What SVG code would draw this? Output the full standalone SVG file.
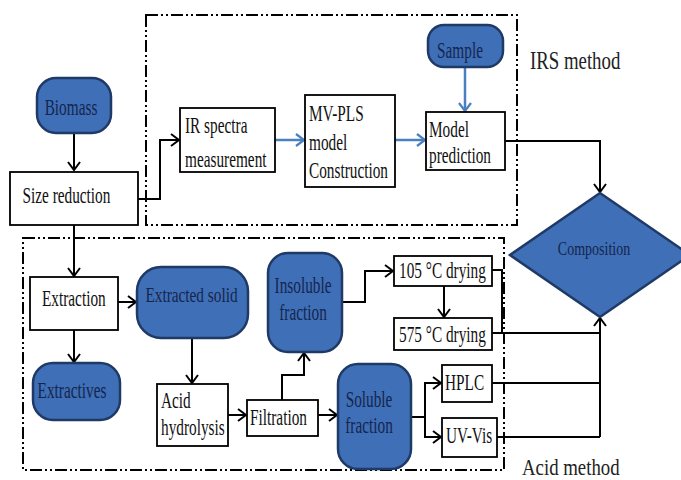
<svg xmlns="http://www.w3.org/2000/svg" width="681" height="480" viewBox="0 0 681 480">
<defs>
<marker id="ah" markerWidth="12" markerHeight="14" refX="10" refY="7" orient="auto" markerUnits="userSpaceOnUse">
<path d="M2,1 L10,7 L2,13" fill="none" stroke="#000" stroke-width="2"/>
</marker>
<marker id="ahb" markerWidth="12" markerHeight="14" refX="10" refY="7" orient="auto" markerUnits="userSpaceOnUse">
<path d="M2,1 L10,7 L2,13" fill="none" stroke="#4a7fc0" stroke-width="2.2"/>
</marker>
</defs>
<style>
.box{fill:#fff;stroke:#000;stroke-width:1.8}
.term{fill:#3f6fb6;stroke:#1f3a66;stroke-width:2.5}
text{font-family:'Liberation Serif','DejaVu Serif','Times New Roman',serif}
.t{font-size:15.3px;fill:#111}
.tb{font-size:15.3px;fill:#14264f;text-anchor:middle}
.big{font-size:18.8px;fill:#222}
.frame{fill:none;stroke:#000;stroke-width:2;stroke-dasharray:12 3 2 3 2 3}
.c{fill:none;stroke:#000;stroke-width:2}
.cb{fill:none;stroke:#4a7fc0;stroke-width:2.5}
</style>
<rect width="681" height="480" fill="#fff"/>

<g id="frames">
<rect class="frame" x="146" y="15" width="371" height="210"/>
<rect class="frame" x="23" y="238" width="481" height="232"/>
<text class="big" transform="translate(530,69) scale(1,1.38)">IRS method</text>
<text class="big" transform="translate(522,475) scale(1,1.25)">Acid method</text>
</g>

<g id="connectors">
<path class="c" d="M74,133 V170" marker-end="url(#ah)"/>
<path class="c" d="M138,199 H160 V140 H179" marker-end="url(#ah)"/>
<path class="cb" d="M275,140 H304" marker-end="url(#ahb)"/>
<path class="cb" d="M395,140 H425" marker-end="url(#ahb)"/>
<path class="cb" d="M465,67 V111" marker-end="url(#ahb)"/>
<path class="c" d="M505,141 H600 V192" marker-end="url(#ah)"/>
<path class="c" d="M74,225 V276" marker-end="url(#ah)"/>
<path class="c" d="M118,302 H136" marker-end="url(#ah)"/>
<path class="c" d="M74,330 V362" marker-end="url(#ah)"/>
<path class="c" d="M192,338 V383" marker-end="url(#ah)"/>
<path class="c" d="M228,415 H246" marker-end="url(#ah)"/>
<path class="c" d="M282,400 V375 H304 V353" marker-end="url(#ah)"/>
<path class="c" d="M318,415 H337" marker-end="url(#ah)"/>
<path class="c" d="M342,302 H365 V271 H393" marker-end="url(#ah)"/>
<path class="c" d="M444,286 V317" marker-end="url(#ah)"/>
<path class="c" d="M492,270 H502 V333"/>
<path class="c" d="M492,333 H600"/>
<path class="c" d="M492,383 H600"/>
<path class="c" d="M497,437 H600"/>
<path class="c" d="M600,437 V318" marker-end="url(#ah)"/>
<path class="c" d="M411,417 H425 V383 H441" marker-end="url(#ah)"/>
<path class="c" d="M425,417 V437 H441" marker-end="url(#ah)"/>
</g>

<g id="biomass">
<rect class="term" x="37" y="78" width="74" height="55" rx="19"/>
<text class="tb" transform="translate(71,115) scale(1,1.45)">Biomass</text>
</g>
<g id="size-reduction">
<rect class="box" x="10" y="172" width="128" height="53"/>
<text class="t" transform="translate(22.5,203) scale(1,1.45)">Size reduction</text>
</g>
<g id="ir-spectra">
<rect class="box" x="180" y="108" width="95" height="64"/>
<text class="t" transform="translate(185,133) scale(1,1.45)">IR spectra</text>
<text class="t" transform="translate(185,167) scale(1,1.45)">measurement</text>
</g>
<g id="mv-pls">
<rect class="box" x="305" y="95" width="90" height="92"/>
<text class="t" transform="translate(309,121) scale(1,1.45)">MV-PLS</text>
<text class="t" transform="translate(309,150) scale(1,1.45)">model</text>
<text class="t" transform="translate(309,178) scale(1,1.45)">Construction</text>
</g>
<g id="sample">
<rect class="term" x="428" y="25" width="75" height="42" rx="16"/>
<text class="tb" transform="translate(460,58) scale(1,1.45)">Sample</text>
</g>
<g id="model-prediction">
<rect class="box" x="426" y="112" width="79" height="58"/>
<text class="t" transform="translate(429,137) scale(1,1.45)">Model</text>
<text class="t" transform="translate(429,163) scale(1,1.45)">prediction</text>
</g>
<g id="composition">
<polygon class="term" points="600,193 690,255 600,317 510,255"/>
<text class="tb" transform="translate(594,255) scale(1,1.4)" style="font-size:14px">Composition</text>
</g>
<g id="extraction">
<rect class="box" x="30" y="277" width="88" height="53"/>
<text class="t" transform="translate(42,306) scale(1,1.45)">Extraction</text>
</g>
<g id="extracted-solid">
<rect class="term" x="137" y="267" width="111" height="71" rx="24"/>
<text class="tb" transform="translate(191.5,302) scale(1,1.4)">Extracted solid</text>
</g>
<g id="extractives">
<rect class="term" x="33" y="363" width="87" height="57" rx="20"/>
<text class="tb" transform="translate(72,398) scale(1,1.45)">Extractives</text>
</g>
<g id="acid-hydrolysis">
<rect class="box" x="157" y="384" width="71" height="62"/>
<text class="t" transform="translate(161,408) scale(1,1.45)">Acid</text>
<text class="t" transform="translate(161,435) scale(1,1.45)">hydrolysis</text>
</g>
<g id="filtration">
<rect class="box" x="247" y="400" width="71" height="36"/>
<text class="t" transform="translate(250,425) scale(1,1.45)">Filtration</text>
</g>
<g id="insoluble-fraction">
<rect class="term" x="268" y="253" width="74" height="99" rx="20"/>
<text class="tb" transform="translate(303,293) scale(1,1.45)">Insoluble</text>
<text class="tb" transform="translate(303,320) scale(1,1.45)">fraction</text>
</g>
<g id="soluble-fraction">
<rect class="term" x="338" y="364" width="73" height="105" rx="20"/>
<text class="tb" transform="translate(369,407) scale(1,1.45)">Soluble</text>
<text class="tb" transform="translate(369,433) scale(1,1.45)">fraction</text>
</g>
<g id="drying-105">
<rect class="box" x="394" y="256" width="98" height="30"/>
<text class="t" transform="translate(399,278) scale(1,1.45)">105 °C drying</text>
</g>
<g id="drying-575">
<rect class="box" x="394" y="318" width="98" height="32"/>
<text class="t" transform="translate(399,342) scale(1,1.45)">575 °C drying</text>
</g>
<g id="hplc">
<rect class="box" x="442" y="365" width="50" height="37"/>
<text class="t" transform="translate(445,390) scale(1,1.45)">HPLC</text>
</g>
<g id="uv-vis">
<rect class="box" x="442" y="418" width="55" height="39"/>
<text class="t" transform="translate(446,443) scale(1,1.45)">UV-Vis</text>
</g>
</svg>
